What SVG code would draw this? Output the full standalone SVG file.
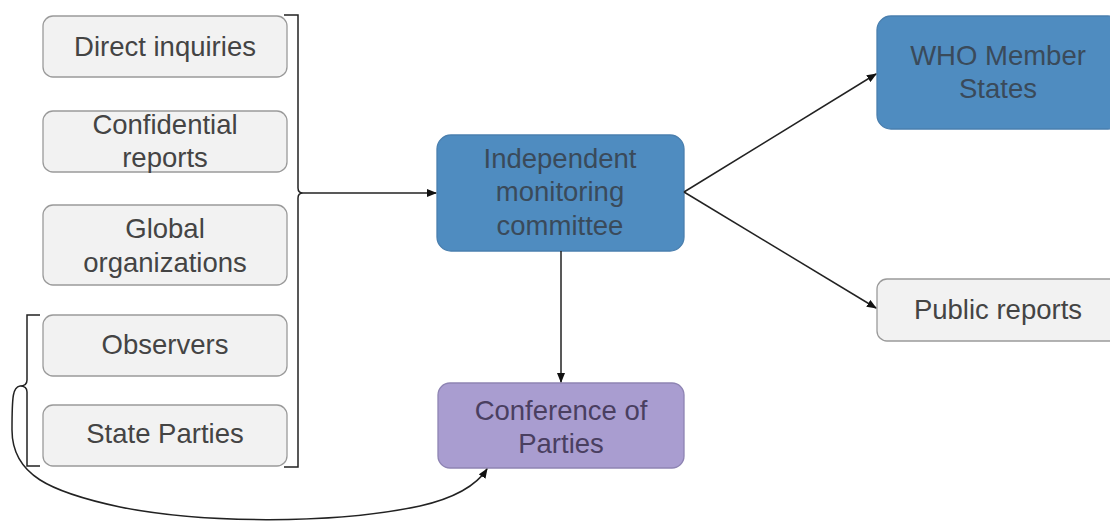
<svg xmlns="http://www.w3.org/2000/svg" width="1110" height="521" viewBox="0 0 1110 521">
<defs>
<marker id="ah" markerWidth="10" markerHeight="8" refX="9" refY="4" orient="auto" markerUnits="userSpaceOnUse">
<path d="M0,0 L10,4 L0,8 Z" fill="#111"/>
</marker>
<style>
text{font-family:"Liberation Sans",Arial,sans-serif;font-size:27.5px;text-anchor:middle}
.g rect{fill:#f2f2f2;stroke:#9a9a9a;stroke-width:1.3}
.g text{fill:#444}
.b rect{fill:#4f8cc0;stroke:#4a7fae;stroke-width:1.3}
.b text{fill:#3a4a5a}
.p rect{fill:#a99dd0;stroke:#8e84b3;stroke-width:1.3}
.p text{fill:#4a3f60}
.c path,.c line{fill:none;stroke:#222;stroke-width:1.5}
</style>
</defs>
<rect width="1110" height="521" fill="#fff"/>
<g id="direct" class="g"><rect x="43" y="16" width="244" height="61" rx="10"/><text x="165" y="56">Direct inquiries</text></g>
<g id="confidential" class="g"><rect x="43" y="111" width="244" height="61" rx="10"/><text x="165" y="134">Confidential</text><text x="165" y="167">reports</text></g>
<g id="global" class="g"><rect x="43" y="205" width="244" height="80" rx="10"/><text x="165" y="238">Global</text><text x="165" y="272">organizations</text></g>
<g id="observers" class="g"><rect x="43" y="315" width="244" height="61" rx="10"/><text x="165" y="354">Observers</text></g>
<g id="stateparties" class="g"><rect x="43" y="405" width="244" height="61" rx="10"/><text x="165" y="443">State Parties</text></g>
<g id="committee" class="b"><rect x="437" y="135" width="247" height="116" rx="14"/><text x="560" y="168">Independent</text><text x="560" y="201">monitoring</text><text x="560" y="235">committee</text></g>
<g id="cop" class="p"><rect x="438" y="383" width="246" height="85" rx="12"/><text x="561" y="420">Conference of</text><text x="561" y="453">Parties</text></g>
<g id="who" class="b"><rect x="877" y="16" width="245" height="113" rx="14"/><text x="998" y="65">WHO Member</text><text x="998" y="98">States</text></g>
<g id="public" class="g"><rect x="877" y="279" width="245" height="62" rx="10"/><text x="998" y="319">Public reports</text></g>
<g id="connectors" class="c">
<path d="M284,15 L298,15 L298,188 Q298,193 303,193 Q298,193 298,198 L298,467 L284,467"/>
<line x1="303" y1="193" x2="436" y2="193" marker-end="url(#ah)"/>
<path d="M40,315 L27,315 L27,380 Q27,386 20,386 Q27,386 27,392 L27,466 L40,466"/>
<path d="M20,386 C13,387 12,395 12,430 C12,475 50,492 120,507 C200,523 330,525 420,506 C455,498 476,486 487,469" marker-end="url(#ah)"/>
<line x1="561" y1="251" x2="561" y2="382" marker-end="url(#ah)"/>
<line x1="684" y1="192" x2="876" y2="74" marker-end="url(#ah)"/>
<line x1="684" y1="192" x2="876" y2="308" marker-end="url(#ah)"/>
</g>
</svg>
